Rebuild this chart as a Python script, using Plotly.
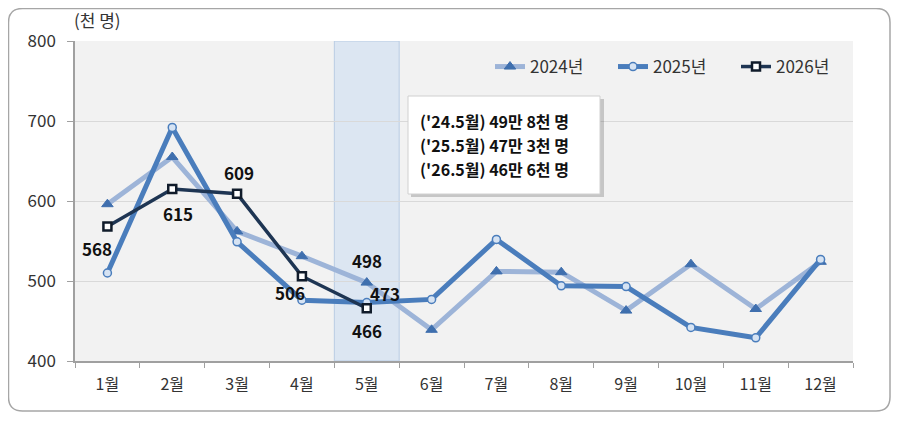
import plotly.graph_objects as go

months = ["1월", "2월", "3월", "4월", "5월", "6월", "7월", "8월", "9월", "10월", "11월", "12월"]
y2024 = [596, 655, 562, 531, 498, 439, 512, 511, 463, 521, 465, 524]
y2025 = [510, 692, 549, 476, 473, 477, 552, 494, 493, 442, 429, 527]
y2026 = [568, 615, 609, 506, 466]
series_names = ["2024년", "2025년", "2026년"]
y_ticks = [400, 500, 600, 700, 800]
note_lines = ["('24.5월) 49만 8천 명", "('25.5월) 47만 3천 명", "('26.5월) 46만 6천 명"]
unit_label = "(천 명)"

FONT = "Noto Sans CJK KR"

fig = go.Figure()

fig.add_trace(go.Scatter(
    x=months, y=y2024, name=series_names[0], mode="lines+markers",
    line=dict(color="#9DB4D8", width=5),
    marker=dict(symbol="triangle-up", size=10, color="#3F6FAE", line=dict(color="#3F6FAE", width=1)),
))
fig.add_trace(go.Scatter(
    x=months, y=y2025, name=series_names[1], mode="lines+markers",
    line=dict(color="#4A7DBC", width=5),
    marker=dict(symbol="circle", size=8, color="#D6E3F3", line=dict(color="#4A7DBC", width=1.5)),
))
fig.add_trace(go.Scatter(
    x=months[:len(y2026)], y=y2026, name=series_names[2], mode="lines+markers",
    line=dict(color="#1E3553", width=3.5),
    marker=dict(symbol="square", size=8, color="#FFFFFF", line=dict(color="#111C2B", width=2.5)),
))

# highlighted month band
hi = months.index("5월")
fig.add_shape(type="rect", xref="x", yref="y", x0=hi - 0.5, x1=hi + 0.5, y0=400, y1=800,
              fillcolor="#DCE6F2", line=dict(color="#B8CCE4", width=1), layer="below")

# data labels
label_pts = [
    (months[0], y2026[0], -10, -22),
    (months[1], y2026[1], 6, -24),
    (months[2], y2026[2], 2, 21),
    (months[3], y2026[3], -12, -16),
    (months[4], y2024[4], 0, 22),
    (months[4], y2025[4], 18, 9),
    (months[4], y2026[4], 0, -22),
]
for x, v, dx, dy in label_pts:
    fig.add_annotation(x=x, y=v, xref="x", yref="y", text=f"<b>{v}</b>", showarrow=False,
                       xshift=dx, yshift=dy, font=dict(family=FONT, size=17, color="#111111"))

# page body has an 8px margin; work in reference-pixel coords and offset
OFF = 8
W, H = 900 - OFF, 421 - OFF
L, R, T, B = 75 - OFF, 47, 41 - OFF, 60
pw, ph = W - L - R, H - T - B
def px(x):
    return (x - OFF - L) / pw
def py(y):
    return (H - B - (y - OFF)) / ph

# outer rounded frame
x0, x1, y0, y1, r = 8.5, 890, 8.5, 411, 14
path = (f"M {px(x0+r)},{py(y0)} L {px(x1-r)},{py(y0)} Q {px(x1)},{py(y0)} {px(x1)},{py(y0+r)} "
        f"L {px(x1)},{py(y1-r)} Q {px(x1)},{py(y1)} {px(x1-r)},{py(y1)} "
        f"L {px(x0+r)},{py(y1)} Q {px(x0)},{py(y1)} {px(x0)},{py(y1-r)} "
        f"L {px(x0)},{py(y0+r)} Q {px(x0)},{py(y0)} {px(x0+r)},{py(y0)} Z")
fig.add_shape(type="path", xref="paper", yref="paper", path=path,
              line=dict(color="#A6A6A6", width=1.5), layer="below")

# note box with shadow
fig.add_shape(type="rect", xref="paper", yref="paper", x0=px(411), x1=px(604), y0=py(197), y1=py(99),
              fillcolor="rgba(0,0,0,0.18)", line=dict(width=0), layer="above")
fig.add_shape(type="rect", xref="paper", yref="paper", x0=px(408), x1=px(600), y0=py(194), y1=py(96),
              fillcolor="#FFFFFF", line=dict(color="#D0D0D0", width=1), layer="above")
for i, t in enumerate(note_lines):
    fig.add_annotation(xref="paper", yref="paper", x=px(418), y=py(121 + 24 * i), xanchor="left",
                       yanchor="middle", text=f"<b>{t}</b>", showarrow=False,
                       font=dict(family=FONT, size=16, color="#111111"))

fig.add_annotation(xref="paper", yref="paper", x=px(72), y=py(20), xanchor="left", yanchor="middle",
                   text=unit_label, showarrow=False, font=dict(family=FONT, size=17, color="#333333"))

fig.update_layout(
    width=W, height=H,
    margin=dict(l=L, r=R, t=T, b=B, autoexpand=False),
    paper_bgcolor="#FFFFFF",
    plot_bgcolor="#F2F2F2",
    font=dict(family=FONT, size=16, color="#333333"),
    showlegend=True,
    legend=dict(orientation="h", x=px(490), y=py(67), xanchor="left", yanchor="middle",
                bgcolor="rgba(0,0,0,0)", font=dict(family=FONT, size=17, color="#333333"),
                itemwidth=30, tracegroupgap=0, entrywidthmode="pixels", entrywidth=78),
)
fig.update_xaxes(type="category", categoryorder="array", categoryarray=months,
                 showgrid=False, showline=True, linecolor="#A0A0A0", linewidth=1.5,
                 ticks="outside", tickson="boundaries", ticklen=5, tickcolor="#A0A0A0",
                 ticklabelstandoff=8,
                 tickfont=dict(family=FONT, size=16, color="#333333"), range=[-0.5, 11.5])
fig.update_yaxes(range=[400, 800], tickvals=y_ticks, showgrid=True, gridcolor="#D9D9D9", gridwidth=1,
                 showline=True, linecolor="#A0A0A0", linewidth=1.5, ticks="outside", ticklen=6,
                 tickcolor="#A0A0A0", zeroline=False, ticklabelstandoff=8,
                 tickfont=dict(family=FONT, size=17, color="#333333"))

fig.write_html("out.html")
